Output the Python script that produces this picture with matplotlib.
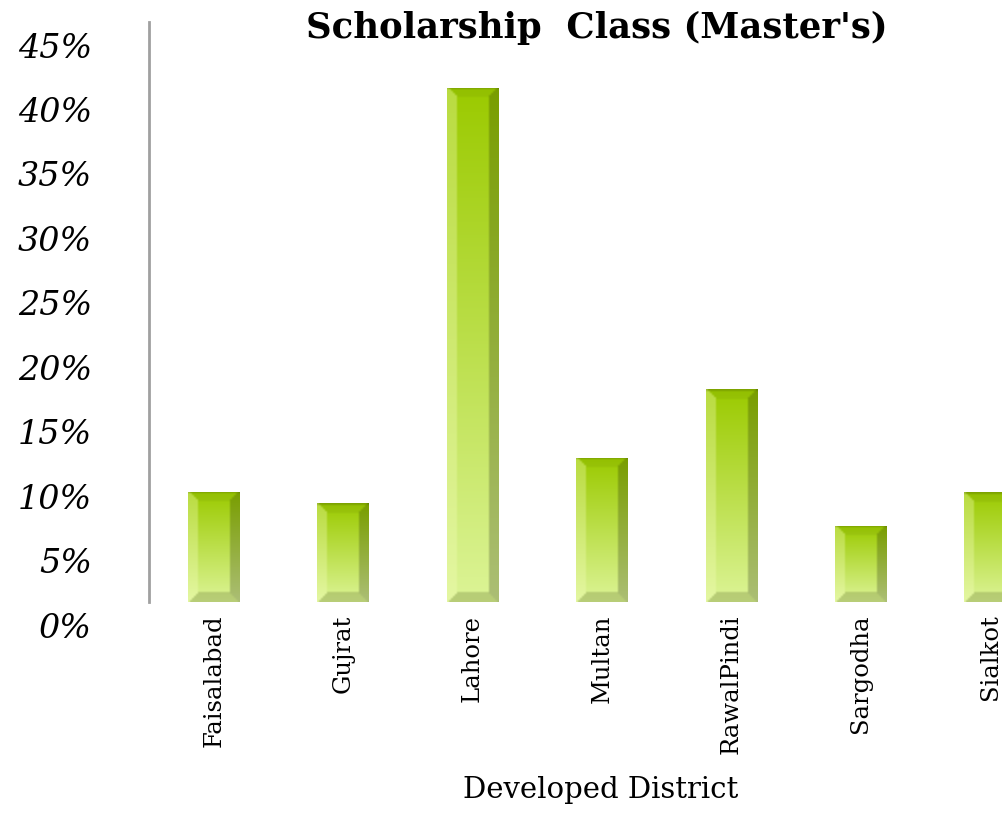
import numpy as np
import matplotlib
matplotlib.use("Agg")
import matplotlib.pyplot as plt
from matplotlib.transforms import ScaledTranslation

districts = ["Faisalabad", "Gujrat", "Lahore", "Multan", "RawalPindi", "Sargodha", "Sialkot"]
share_pct = [8.55, 7.65, 39.9, 11.2, 16.5, 5.9, 8.5]
yticks = [0, 5, 10, 15, 20, 25, 30, 35, 40, 45]

W, H = 1002, 834
fig = plt.figure(figsize=(W / 100, H / 100), dpi=100)
# axes run past the right edge, as in the original (Sialkot bar is clipped)
ax = fig.add_axes([149 / W, (H - 602) / H, 906 / W, 580 / H])
ax.set_xlim(-0.5, 6.5)
ax.set_ylim(0, 45)

x = np.arange(len(districts))
bars = ax.bar(x, share_pct, width=0.4, facecolor="none", edgecolor="none")

# ── bevelled gradient fill for each bar ──────────────────────────────────────
top_c = np.array([155, 202, 0]) / 255
bot_c = np.array([220, 244, 150]) / 255
bev = 4.5   # in half-resolution pixels
for b in bars:
    x0, y0 = b.get_x(), b.get_y()
    x1, y1 = x0 + b.get_width(), y0 + b.get_height()
    p0 = ax.transData.transform((x0, y0))
    p1 = ax.transData.transform((x1, y1))
    wpx = int(round((p1[0] - p0[0]) / 2))
    hpx = int(round((p1[1] - p0[1]) / 2))
    yy, xx = np.mgrid[0:hpx, 0:wpx]
    t = (yy / max(hpx - 1, 1))[..., None]
    img = top_c * (1 - t) + bot_c * t
    d = np.stack([xx, wpx - 1 - xx, yy, hpx - 1 - yy])
    side = d.argmin(axis=0)
    near = d.min(axis=0) < bev
    m = near & (side == 0)
    img[m] = img[m] * 0.65 + np.array([0.95, 0.99, 0.72]) * 0.35
    m = near & (side == 1)
    img[m] = img[m] * 0.78
    m = near & (side == 2)
    img[m] = img[m] * 0.95
    m = near & (side == 3)
    img[m] = img[m] * 0.55 + np.array([0.55, 0.62, 0.32]) * 0.45
    img[0, :] = img[0, :] * 0.85
    im = ax.imshow(img, extent=(x0, x1, y0, y1), aspect="auto",
                   interpolation="bilinear", origin="upper", zorder=3)
    im.set_clip_path(b)
ax.set_xlim(-0.5, 6.5)
ax.set_ylim(0, 45)

for s in ["top", "right", "bottom"]:
    ax.spines[s].set_visible(False)
ax.spines["left"].set_color("#A0A0A0")
ax.spines["left"].set_linewidth(2)

ax.set_yticks(yticks)
ax.set_yticklabels([f"{v}%" for v in yticks], family="DejaVu Serif",
                   style="italic", fontsize=24)
ax.tick_params(axis="y", length=0, pad=41)
off = ScaledTranslation(0, -0.23, fig.dpi_scale_trans)
for lab in ax.get_yticklabels():
    lab.set_transform(lab.get_transform() + off)

ax.set_xticks(x)
ax.set_xticklabels(districts, rotation=90, family="DejaVu Serif", fontsize=17.5)
ax.tick_params(axis="x", length=0, pad=9)

fig.text(597 / W, 1 - 28 / H, "Scholarship  Class (Master's)", ha="center",
         va="center", family="DejaVu Serif", weight="bold", fontsize=25.5)
fig.text(601 / W, 1 - 790 / H, "Developed District", ha="center",
         va="center", family="DejaVu Serif", fontsize=21)

fig.savefig("out.png", dpi=100)
